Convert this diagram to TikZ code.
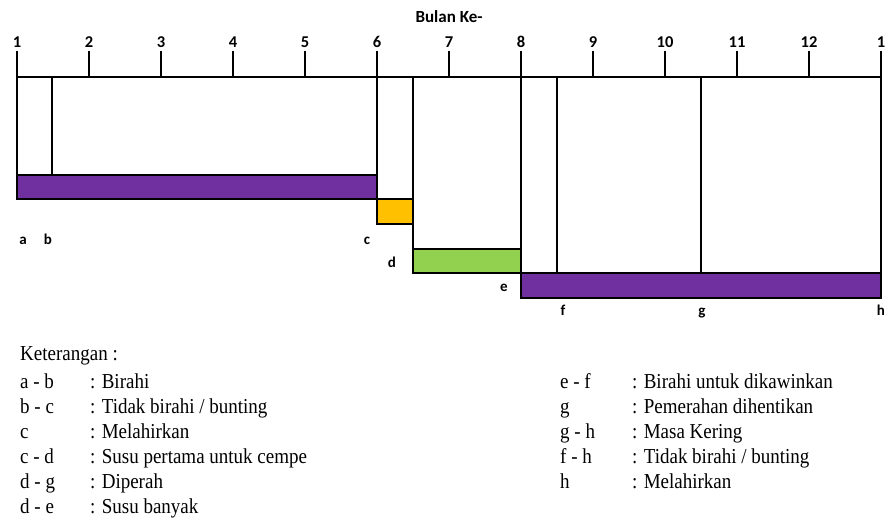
\documentclass[tikz,border=0pt]{standalone}
\usepackage{fontspec}
\setmainfont{Liberation Serif}
\newfontfamily\labelfont{Carlito}
\definecolor{barpurple}{HTML}{7030A0}
\definecolor{barorange}{HTML}{FFC000}
\definecolor{bargreen}{HTML}{92D050}
% legend glyphs are set slightly taller than wide
\newcommand\keyline[1]{\scalebox{1}[1.12]{#1}}
\tikzset{
  axisline/.style={line width=1.8pt, line cap=rect},
  divider/.style={line width=1.5pt},
  bar/.style={draw=black, line width=1.4pt},
  ticklbl/.style={font=\labelfont\bfseries\fontsize{16.5}{18}\selectfont, inner sep=0pt, anchor=base},
  pointlbl/.style={font=\labelfont\bfseries\fontsize{15}{17}\selectfont, inner sep=0pt, anchor=base},
  keytext/.style={font=\fontsize{19}{22}\selectfont, inner sep=0pt, anchor=base west}
}
\begin{document}
\begin{tikzpicture}[x=1pt, y=-1pt]
\useasboundingbox[fill=white] (0,0) rectangle (885,517);

% title of the month axis
\node[ticklbl, font=\labelfont\bfseries\fontsize{17}{19}\selectfont] (title) at (449,22) {Bulan Ke-};

% month labels, tick marks and the axis itself
\foreach \m in {1,...,12} {
  \node[ticklbl] (m\m) at ({17+72*(\m-1)},47) {\m};
  \coordinate (t\m) at ({17+72*(\m-1)},52);
  \coordinate (a\m) at ({17+72*(\m-1)},77);
  \draw[axisline] (t\m) -- (a\m);
}
\node[ticklbl] (m13) at (881,47) {1};
\coordinate (t13) at (881,52);
\coordinate (a13) at (881,77);
\draw[axisline] (t13) -- (a13);
\draw[axisline] (a1) -- (a13);

% phase bars
\draw[bar, fill=barpurple] (17,175) rectangle (377,199);
\draw[bar, fill=barorange] (377,199) rectangle (413,224);
\draw[bar, fill=bargreen]  (413,249) rectangle (521,273);
\draw[bar, fill=barpurple] (521,273) rectangle (881,298);

% event markers dropping from the axis
\coordinate (pa) at (17,77);   \coordinate (qa) at (17,199);
\coordinate (pb) at (52,77);   \coordinate (qb) at (52,175);
\coordinate (pc) at (377,77);  \coordinate (qc) at (377,224);
\coordinate (pd) at (413,77);  \coordinate (qd) at (413,273);
\coordinate (pe) at (521,77);  \coordinate (qe) at (521,298);
\coordinate (pf) at (557,77);  \coordinate (qf) at (557,273);
\coordinate (pg) at (701,77);  \coordinate (qg) at (701,273);
\coordinate (ph) at (881,77);  \coordinate (qh) at (881,298);
\foreach \p in {a,b,c,d,e,f,g,h} { \draw[divider] (p\p) -- (q\p); }

% event letters
\node[pointlbl] (la) at (23,244) {a};
\node[pointlbl] (lb) at (48,244) {b};
\node[pointlbl] (lc) at (367,244) {c};
\node[pointlbl] (ld) at (392,267) {d};
\node[pointlbl] (le) at (504,291) {e};
\node[pointlbl] (lf) at (563,315) {f};
\node[pointlbl] (lg) at (702,315) {g};
\node[pointlbl] (lh) at (881,315) {h};

% legend
\node[keytext] (kt) at (20,360) {\keyline{Keterangan :}};
\node[keytext] (k1a) at (20,388) {\keyline{a - b}};  \node[keytext] (k1b) at (90,388) {\keyline{: Birahi}};
\node[keytext] (k2a) at (20,413) {\keyline{b - c}};  \node[keytext] (k2b) at (90,413) {\keyline{: Tidak birahi / bunting}};
\node[keytext] (k3a) at (20,438) {\keyline{c}};      \node[keytext] (k3b) at (90,438) {\keyline{: Melahirkan}};
\node[keytext] (k4a) at (20,463) {\keyline{c - d}};  \node[keytext] (k4b) at (90,463) {\keyline{: Susu pertama untuk cempe}};
\node[keytext] (k5a) at (20,488) {\keyline{d - g}};  \node[keytext] (k5b) at (90,488) {\keyline{: Diperah}};
\node[keytext] (k6a) at (20,513) {\keyline{d - e}};  \node[keytext] (k6b) at (90,513) {\keyline{: Susu banyak}};

\node[keytext] (r1a) at (560,388) {\keyline{e - f}};  \node[keytext] (r1b) at (632,388) {\keyline{: Birahi untuk dikawinkan}};
\node[keytext] (r2a) at (560,413) {\keyline{g}};      \node[keytext] (r2b) at (632,413) {\keyline{: Pemerahan dihentikan}};
\node[keytext] (r3a) at (560,438) {\keyline{g - h}};  \node[keytext] (r3b) at (632,438) {\keyline{: Masa Kering}};
\node[keytext] (r4a) at (560,463) {\keyline{f - h}};  \node[keytext] (r4b) at (632,463) {\keyline{: Tidak birahi / bunting}};
\node[keytext] (r5a) at (560,488) {\keyline{h}};      \node[keytext] (r5b) at (632,488) {\keyline{: Melahirkan}};
\end{tikzpicture}
\end{document}
